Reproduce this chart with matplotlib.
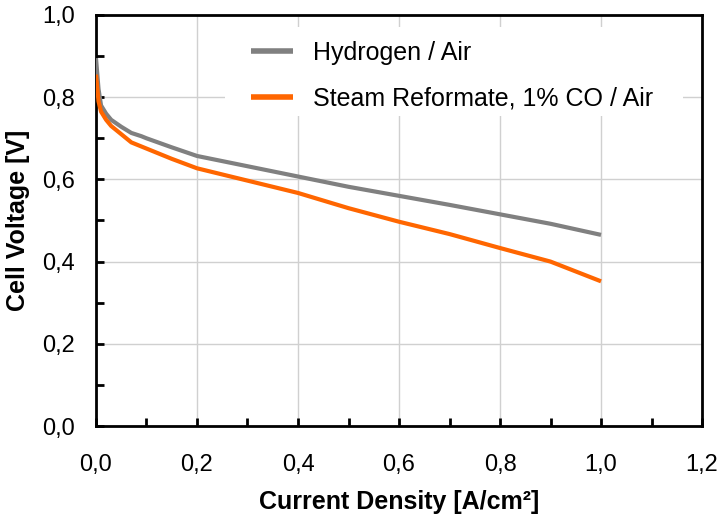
import matplotlib
matplotlib.use("Agg")
import matplotlib.pyplot as plt
from matplotlib.ticker import MultipleLocator, FuncFormatter
from matplotlib.patches import Rectangle

plt.rcParams['font.family'] = ['Liberation Sans', 'DejaVu Sans']

current = [0, 0.005, 0.01, 0.02, 0.03, 0.05, 0.07, 0.09, 0.1, 0.15, 0.2, 0.3, 0.4, 0.5, 0.6, 0.7, 0.8, 0.9, 1.0]
hydrogen = [0.895, 0.82, 0.78, 0.76, 0.745, 0.728, 0.713, 0.705, 0.700, 0.678, 0.657, 0.632, 0.607, 0.582, 0.560, 0.538, 0.515, 0.492, 0.465]
reformate = [0.855, 0.79, 0.765, 0.745, 0.73, 0.71, 0.69, 0.68, 0.675, 0.65, 0.627, 0.597, 0.567, 0.53, 0.497, 0.467, 0.433, 0.40, 0.352]

fig = plt.figure(figsize=(7.19, 5.22), dpi=100)
ax = fig.add_axes([0.1335, 0.1839, 0.9764 - 0.1335, 0.9713 - 0.1839])

ax.plot(current, hydrogen, color='#808080', lw=3, label='Hydrogen / Air', solid_capstyle='butt', zorder=3)
ax.plot(current, reformate, color='#ff6600', lw=3, label='Steam Reformate, 1% CO / Air', solid_capstyle='butt', zorder=3)

ax.set_xlim(0, 1.2)
ax.set_ylim(0, 1.0)
ax.xaxis.set_major_locator(MultipleLocator(0.2))
ax.xaxis.set_minor_locator(MultipleLocator(0.1))
ax.yaxis.set_major_locator(MultipleLocator(0.2))
ax.yaxis.set_minor_locator(MultipleLocator(0.1))
fmt = FuncFormatter(lambda v, p: f"{v:.1f}".replace('.', ','))
ax.xaxis.set_major_formatter(fmt)
ax.yaxis.set_major_formatter(fmt)
ax.grid(True, which='major', color='#d0d0d0', lw=1, zorder=0)
ax.set_axisbelow(True)
ax.tick_params(which='both', direction='in', length=6, width=2, labelsize=17, top=False, right=False)
ax.tick_params(axis='x', pad=20)
ax.tick_params(axis='y', pad=15)
for s in ax.spines.values():
    s.set_linewidth(2)
    s.set_color('black')

ax.set_xlabel('Current Density [A/cm²]', fontsize=18, fontweight='bold', labelpad=10)
ax.set_ylabel('Cell Voltage [V]', fontsize=18, fontweight='bold', labelpad=9)

ax.add_patch(Rectangle((0.213, 0.754), 0.969 - 0.213, 0.971 - 0.754, transform=ax.transAxes,
                       facecolor='white', edgecolor='none', zorder=1))

leg = ax.legend(loc='upper left', bbox_to_anchor=(0.2558, 0.937), frameon=False, fontsize=18,
                handlelength=1.68, labelspacing=0.86, borderpad=0, borderaxespad=0, handletextpad=0.8)
for h in leg.get_lines():
    h.set_linewidth(4)

fig.savefig('out.png', dpi=100)
